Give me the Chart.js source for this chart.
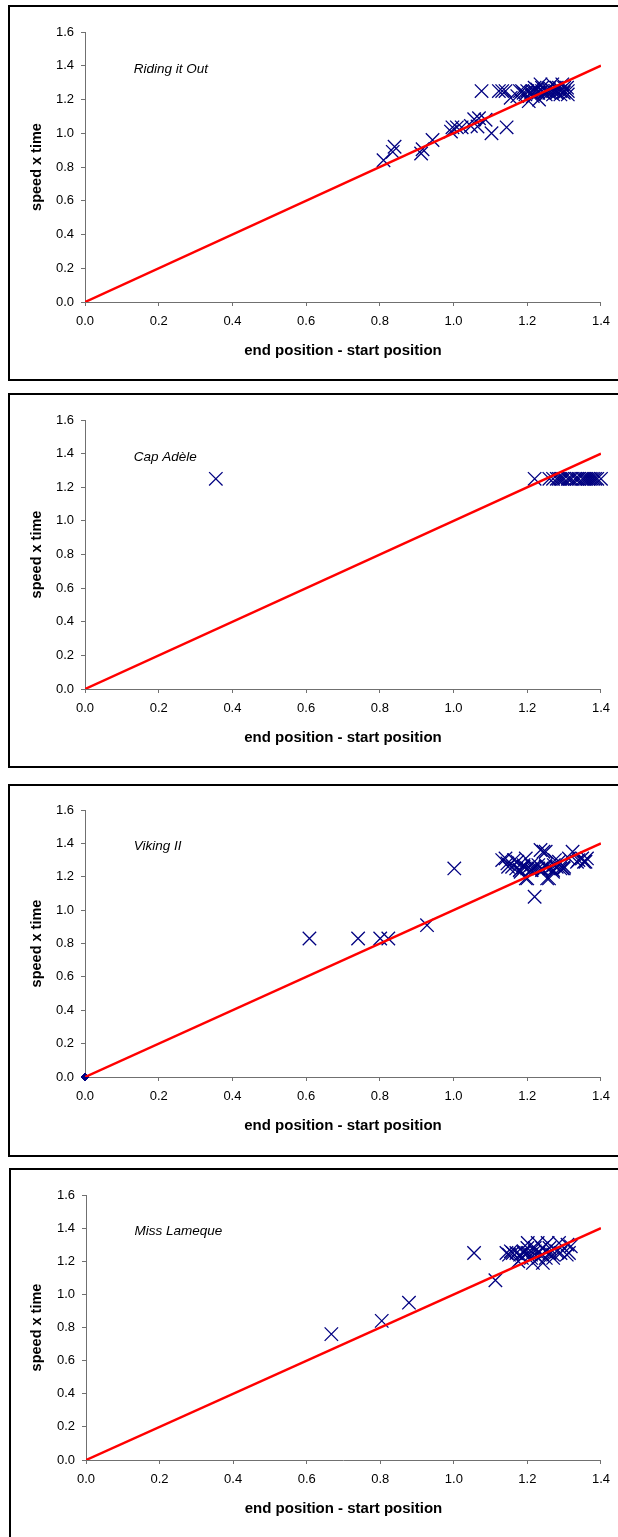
<!DOCTYPE html>
<html>
<head>
<meta charset="utf-8">
<title>speed x time vs end position - start position</title>
<script src="https://cdn.jsdelivr.net/npm/chart.js@4.4.1/dist/chart.umd.min.js"></script>
<style>
  body { margin: 0; width: 618px; height: 1537px; overflow: hidden; position: relative; background: #fff; }
  .box { position: absolute; border: 2px solid #000; box-sizing: border-box; width: 700px; }
  canvas { position: absolute; left: 0; }
</style>
</head>
<body>
<div class="box" id="box-0"></div>
<div class="box" id="box-1"></div>
<div class="box" id="box-2"></div>
<div class="box" id="box-3"></div>
<canvas id="chart-0"></canvas>
<canvas id="chart-1"></canvas>
<canvas id="chart-2"></canvas>
<canvas id="chart-3"></canvas>
<script>
const X_TITLE = 'end position - start position';
const Y_TITLE = 'speed x time';
const X_TICKS = [0, 0.2, 0.4, 0.6, 0.8, 1.0, 1.2, 1.4];
const Y_TICKS = [0, 0.2, 0.4, 0.6, 0.8, 1.0, 1.2, 1.4, 1.6];
const PANEL_TITLES = ['Riding it Out', 'Cap Adèle', 'Viking II', 'Miss Lameque'];

// red reference line y = x
const FIT_LINE_X = [0, 1.4];
const FIT_LINE_Y = [0, 1.4];

const RIDING_X = [0.81, 0.835, 0.84, 0.912, 0.916, 0.943, 0.993, 0.997, 1.009, 1.022, 1.047, 1.056, 1.069, 1.065, 1.087, 1.103, 1.144,
  1.076, 1.123, 1.132, 1.141, 1.155, 1.173, 1.186, 1.195, 1.204, 1.214, 1.227, 1.236, 1.232, 1.245, 1.258, 1.268, 1.277, 1.286, 1.295, 1.299, 1.308,
  1.18, 1.19, 1.20, 1.21, 1.22, 1.23, 1.24, 1.25, 1.26, 1.27, 1.28, 1.29, 1.30, 1.31, 1.215, 1.22, 1.24, 1.26, 1.28, 1.30, 1.25, 1.27, 1.29, 1.31];
const RIDING_Y = [0.84, 0.89, 0.92, 0.88, 0.905, 0.96, 1.01, 1.035, 1.035, 1.035, 1.043, 1.083, 1.089, 1.04, 1.08, 1.0, 1.035,
  1.25, 1.25, 1.25, 1.25, 1.21, 1.22, 1.25, 1.23, 1.19, 1.25, 1.26, 1.29, 1.20, 1.24, 1.26, 1.29, 1.25, 1.27, 1.29, 1.24, 1.27,
  1.25, 1.24, 1.25, 1.24, 1.25, 1.24, 1.25, 1.25, 1.24, 1.25, 1.24, 1.25, 1.25, 1.25, 1.22, 1.27, 1.27, 1.27, 1.27, 1.27, 1.23, 1.23, 1.23, 1.23];

const CAP_X = [0.355, 1.22, 1.26, 1.27, 1.28, 1.285, 1.29, 1.295, 1.30, 1.31, 1.315, 1.32, 1.33, 1.335, 1.34, 1.35, 1.355, 1.36, 1.365, 1.37, 1.375, 1.38, 1.385, 1.39, 1.40];
const CAP_Y = [1.25, 1.25, 1.25, 1.25, 1.25, 1.25, 1.25, 1.25, 1.25, 1.25, 1.25, 1.25, 1.25, 1.25, 1.25, 1.25, 1.25, 1.25, 1.25, 1.25, 1.25, 1.25, 1.25, 1.25, 1.25];

const VIKING_X = [0.609, 0.741, 0.801, 0.823, 0.928, 1.002, 1.22,
  1.132, 1.141, 1.146, 1.148, 1.159, 1.164, 1.173, 1.18, 1.182, 1.196, 1.196, 1.2, 1.212, 1.214, 1.236, 1.244, 1.25, 1.239, 1.254, 1.259,
  1.272, 1.275, 1.286, 1.296, 1.299, 1.313, 1.323, 1.335, 1.339, 1.349, 1.354, 1.358, 1.362,
  1.17, 1.18, 1.19, 1.20, 1.21, 1.22, 1.23, 1.24, 1.25, 1.26, 1.27, 1.28, 1.29, 1.30, 1.19, 1.21, 1.23, 1.25, 1.27];
const VIKING_Y = [0.83, 0.83, 0.83, 0.83, 0.91, 1.25, 1.08,
  1.30, 1.31, 1.28, 1.26, 1.26, 1.30, 1.29, 1.24, 1.23, 1.31, 1.19, 1.19, 1.24, 1.25, 1.36, 1.35, 1.35, 1.25, 1.19, 1.19,
  1.27, 1.30, 1.29, 1.25, 1.25, 1.31, 1.35, 1.29, 1.30, 1.31, 1.29, 1.29, 1.31,
  1.25, 1.24, 1.26, 1.25, 1.24, 1.26, 1.25, 1.24, 1.26, 1.25, 1.24, 1.26, 1.25, 1.26, 1.27, 1.27, 1.27, 1.27, 1.23];
const VIKING_ORIGIN_X = [0];
const VIKING_ORIGIN_Y = [0];

const LAMEQUE_X = [0.667, 0.804, 0.878, 1.055, 1.113,
  1.143, 1.15, 1.155, 1.16, 1.175, 1.185, 1.19, 1.201, 1.215, 1.228, 1.242, 1.255, 1.286, 1.309, 1.313, 1.307, 1.318,
  1.17, 1.18, 1.19, 1.20, 1.21, 1.22, 1.23, 1.24, 1.25, 1.26, 1.27, 1.28, 1.29, 1.20, 1.22, 1.24, 1.26, 1.21, 1.23, 1.25, 1.27];
const LAMEQUE_Y = [0.76, 0.84, 0.95, 1.25, 1.085,
  1.25, 1.24, 1.26, 1.25, 1.20, 1.22, 1.25, 1.31, 1.19, 1.31, 1.19, 1.31, 1.31, 1.30, 1.25, 1.24, 1.29,
  1.25, 1.24, 1.26, 1.25, 1.24, 1.26, 1.25, 1.24, 1.26, 1.25, 1.24, 1.26, 1.25, 1.28, 1.28, 1.28, 1.28, 1.22, 1.22, 1.22, 1.22];

const PANEL_SERIES = [
  [RIDING_X, RIDING_Y, null, null],
  [CAP_X, CAP_Y, null, null],
  [VIKING_X, VIKING_Y, VIKING_ORIGIN_X, VIKING_ORIGIN_Y],
  [LAMEQUE_X, LAMEQUE_Y, null, null]
];

// page geometry of each framed chart (box and plot area)
const PANEL_LAYOUT = [
  { boxLeft: 8, boxTop: 5, boxHeight: 376, left: 85, right: 603, top: 32, bottom: 302 },
  { boxLeft: 8, boxTop: 393, boxHeight: 375, left: 85, right: 606, top: 420, bottom: 689 },
  { boxLeft: 8, boxTop: 784, boxHeight: 373, left: 85, right: 606, top: 810, bottom: 1077 },
  { boxLeft: 9, boxTop: 1168, boxHeight: 380, left: 86, right: 610, top: 1195, bottom: 1460 }
];
const PAGE_WIDTH = 618;
const PAGE_HEIGHT = 1537;
const LABEL_AT_X = 0.132;
const LABEL_AT_Y = 1.38;

const FONT_FAMILY = '"Liberation Sans", Arial, Helvetica, sans-serif';
Chart.defaults.font.family = FONT_FAMILY;
Chart.defaults.color = '#000';

const toPoints = (xs, ys) => xs.map((x, i) => ({ x, y: ys[i] }));

const panelLabelPlugin = {
  id: 'panelLabel',
  afterDatasetsDraw(chart, args, opts) {
    const { ctx, scales: { x, y } } = chart;
    ctx.save();
    ctx.font = `italic 13.5px ${FONT_FAMILY}`;
    ctx.fillStyle = '#000';
    ctx.textBaseline = 'middle';
    ctx.fillText(opts.text, x.getPixelForValue(LABEL_AT_X), y.getPixelForValue(LABEL_AT_Y));
    ctx.restore();
  }
};

const createPanelChart = (index) => {
  const panel = PANEL_LAYOUT[index];
  const [xs, ys, originXs, originYs] = PANEL_SERIES[index];

  const box = document.getElementById(`box-${index}`);
  box.style.left = `${panel.boxLeft}px`;
  box.style.top = `${panel.boxTop}px`;
  box.style.height = `${panel.boxHeight}px`;

  const canvasHeight = Math.min(panel.boxHeight, PAGE_HEIGHT - panel.boxTop);
  const canvas = document.getElementById(`chart-${index}`);
  canvas.width = PAGE_WIDTH;
  canvas.height = canvasHeight;
  canvas.style.top = `${panel.boxTop}px`;

  const areaBottom = panel.bottom - panel.boxTop;
  const xAxisHeight = canvasHeight - areaBottom;

  const datasets = [{
    data: toPoints(FIT_LINE_X, FIT_LINE_Y),
    showLine: true,
    borderColor: '#ff0000',
    borderWidth: 2.5,
    pointRadius: 0
  }];
  if (originXs) {
    datasets.push({
      data: toPoints(originXs, originYs),
      pointStyle: 'rectRot',
      pointRadius: 4,
      backgroundColor: '#000080',
      borderColor: '#000080',
      borderWidth: 1,
      clip: false
    });
  }
  datasets.push({
    data: toPoints(xs, ys),
    pointStyle: 'crossRot',
    pointRadius: 9.5,
    borderColor: '#000080',
    borderWidth: 1.3,
    clip: false
  });

  const axisGrid = { drawOnChartArea: false, drawTicks: true, tickLength: 4, color: '#707070', lineWidth: 1 };
  const axisBorder = { display: true, color: '#707070', width: 1 };

  return new Chart(canvas, {
    type: 'scatter',
    data: { datasets },
    options: {
      responsive: false,
      animation: false,
      events: [],
      layout: { padding: { left: 0, top: panel.top - panel.boxTop, right: PAGE_WIDTH - panel.right, bottom: 0 } },
      plugins: {
        legend: { display: false },
        tooltip: { enabled: false },
        panelLabel: { text: PANEL_TITLES[index] }
      },
      scales: {
        x: {
          type: 'linear',
          min: 0,
          max: 1.4,
          grid: axisGrid,
          border: axisBorder,
          afterBuildTicks: (axis) => { axis.ticks = X_TICKS.map(value => ({ value })); },
          afterFit: (axis) => { axis.height = xAxisHeight; },
          ticks: {
            autoSkip: false,
            maxRotation: 0,
            padding: 8,
            font: { size: 13 },
            callback: (value) => Number(value).toFixed(1)
          },
          title: {
            display: true,
            text: X_TITLE,
            font: { size: 15, weight: 'bold' },
            padding: { top: 0, bottom: xAxisHeight - 49 - 9 }
          }
        },
        y: {
          type: 'linear',
          min: 0,
          max: 1.6,
          grid: axisGrid,
          border: axisBorder,
          afterBuildTicks: (axis) => { axis.ticks = Y_TICKS.map(value => ({ value })); },
          afterFit: (axis) => { axis.width = panel.left; },
          ticks: {
            padding: 7,
            font: { size: 13 },
            callback: (value) => Number(value).toFixed(1)
          },
          title: {
            display: true,
            text: Y_TITLE,
            font: { size: 14.5, weight: 'bold' },
            padding: { top: 37 - 8.7, bottom: 0 }
          }
        }
      }
    },
    plugins: [panelLabelPlugin]
  });
};

const CHARTS = PANEL_LAYOUT.map((panel, index) => createPanelChart(index));
</script>
</body>
</html>
